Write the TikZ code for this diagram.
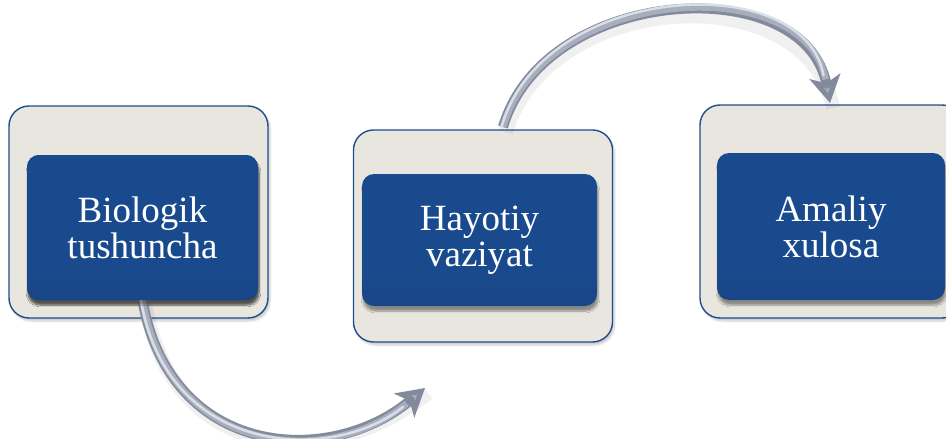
\documentclass[tikz,border=0pt]{standalone}
\usepackage{fontspec}
\setmainfont{Liberation Serif}
\usetikzlibrary{arrows.meta,shadows.blur,calc}
\definecolor{outerfill}{HTML}{E8E6DF}
\definecolor{outerline}{HTML}{1F4E8C}
\definecolor{bluetop}{HTML}{4F85CC}
\definecolor{bluetop2}{HTML}{2A5DA3}
\definecolor{bluemid}{HTML}{1A4A8E}
\definecolor{bluelow}{HTML}{163F7C}
\definecolor{bluebot}{HTML}{10305E}
\definecolor{tubedark}{HTML}{838A9C}
\definecolor{tubemid}{HTML}{A8AEBD}
\definecolor{tubelight}{HTML}{E0E4EC}
\pgfdeclareverticalshading{boxshade}{100bp}{color(0bp)=(bluebot); color(3bp)=(bluelow); color(40bp)=(bluemid); color(94bp)=(bluemid); color(96bp)=(bluetop2); color(99bp)=(bluetop); color(100bp)=(bluetop)}
\tikzset{
  outerbox/.style={draw=outerline, line width=1.4pt, fill=outerfill, rounded corners=20pt,
    blur shadow={shadow xshift=2pt, shadow yshift=-3pt, shadow opacity=20, shadow blur steps=6}},
  innerbox/.style={rounded corners=12pt, shading=boxshade,
    text=white, align=center, font=\fontsize{37}{36}\selectfont,
    blur shadow={shadow xshift=1pt, shadow yshift=-5pt, shadow opacity=40, shadow blur steps=8}},
  tubeshadow/.style={draw=black, opacity=0.06, line width=14pt},
  tube/.style={draw=tubedark, line width=10pt, -{Stealth[length=27pt,width=31pt,inset=7pt,fill=tubemid]}},
  tubemidline/.style={draw=tubemid, line width=6.5pt},
  tubehl/.style={draw=tubelight, line width=2.5pt, opacity=0.9, line cap=round}
}
\begin{document}
\begin{tikzpicture}[x=1pt,y=-1pt]
\useasboundingbox (0,0) rectangle (946,439);
% outer boxes
\node[outerbox, minimum width=259pt, minimum height=212pt] (o1) at (138.5,212) {};
\node[outerbox, minimum width=259pt, minimum height=212pt] (o2) at (483,236) {};
\node[outerbox, minimum width=262pt, minimum height=213pt] (o3) at (831,211.5) {};
% arrow end points
\coordinate (e1) at (425,388);
\coordinate (s2) at (503,127);
\coordinate (e2) at (830,103);
\node[innerbox, minimum width=231pt, minimum height=145pt] (i1) at (142.5,227.5) {Biologik\\tushuncha};
% arrows
\draw[tubeshadow] ([shift={(3,5)}]i1.south) .. controls (172,463) and (330,473) .. ([shift={(3,5)}]e1);
\draw[tube] (i1.south) .. controls (170,458) and (330,468) .. (e1);
\draw[tubemidline, shorten >=24pt] (i1.south) .. controls (170,458) and (330,468) .. (e1);
\draw[tubehl, shorten >=28pt] ([xshift=-1.5pt]i1.south) .. controls (167,455) and (330,465) .. ([yshift=-1.5pt]e1);
\draw[tubeshadow] ([shift={(3,5)}]s2) .. controls (548,-10) and (808,-25) .. ([shift={(3,5)}]e2);
\draw[tube] (s2) .. controls (545,-15) and (805,-30) .. (e2);
\draw[tubemidline, shorten >=24pt] (s2) .. controls (545,-15) and (805,-30) .. (e2);
\draw[tubehl, shorten >=28pt] ([xshift=-1.5pt]s2) .. controls (543,-18) and (804,-33) .. ([xshift=-1.5pt]e2);
% redraw inner box 1 on top of arrow start
\node[innerbox, minimum width=231pt, minimum height=145pt] at (i1) {Biologik\\tushuncha};
\node[innerbox, minimum width=235pt, minimum height=132pt] (i2) at (479.5,240) {Hayotiy\\vaziyat};
\node[innerbox, minimum width=228pt, minimum height=147pt] (i3) at (831,226.5) {Amaliy\\xulosa};
\end{tikzpicture}
\end{document}
